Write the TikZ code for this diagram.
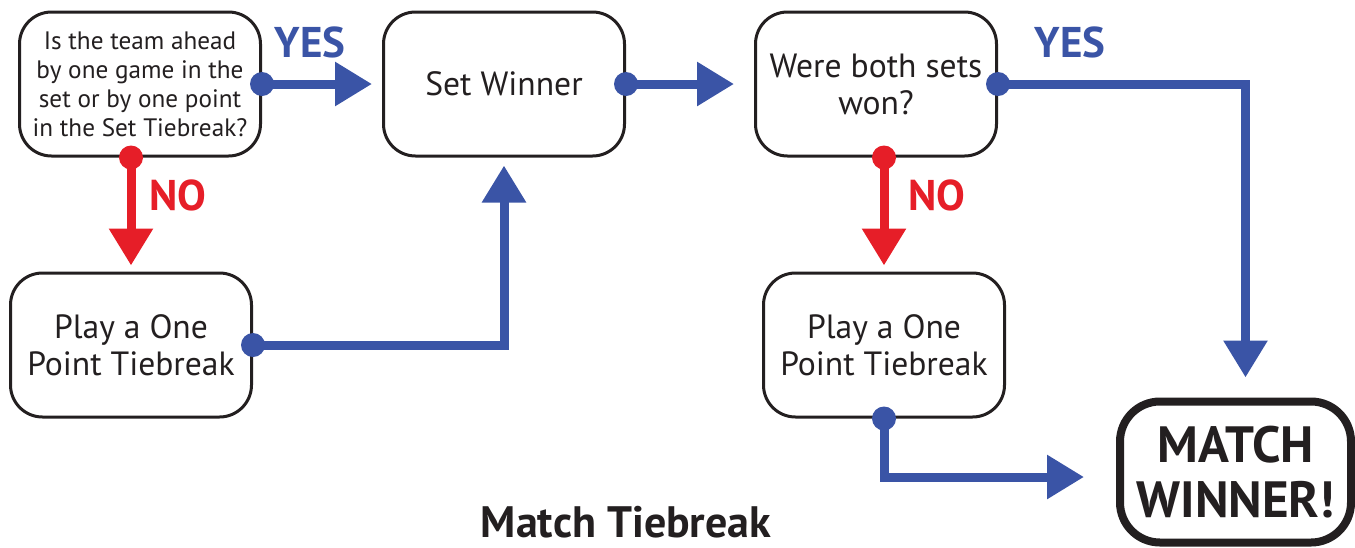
\documentclass[tikz,border=0pt]{standalone}
\usepackage{fontspec}
\setmainfont{PT Sans}
\usepackage{tikz}
\usetikzlibrary{arrows.meta}
\usepackage{xcolor}

\definecolor{yesblue}{HTML}{3A54A6}
\definecolor{nored}{HTML}{E61E28}
\definecolor{inkgray}{HTML}{231F20}

\begin{document}
\begin{tikzpicture}[x=0.5pt, y=-0.5pt, color=inkgray,
    box/.style={draw=inkgray, line width=1.5pt, rounded corners=16pt, fill=white,
        minimum width=120.5pt, minimum height=72pt, inner sep=0pt, align=center},
    finalbox/.style={draw=inkgray, line width=4pt, rounded corners=20pt, fill=white,
        minimum width=115.5pt, minimum height=70.5pt, inner sep=0pt, align=center,
        font=\fontsize{25.5}{27.5}\selectfont\bfseries},
    yesline/.style={draw=yesblue, line width=4.5pt, -{Triangle[length=18.5pt,width=21pt]}},
    noline/.style={draw=nored, line width=4.5pt, -{Triangle[length=18.5pt,width=21pt]}},
    yeslabel/.style={text=yesblue, font=\fontsize{21.5}{24}\selectfont\bfseries},
    nolabel/.style={text=nored, font=\fontsize{21.5}{24}\selectfont\bfseries},
    bigtext/.style={font=\fontsize{16.8}{18.5}\selectfont},
    smalltext/.style={font=\fontsize{12.6}{14.5}\selectfont}
]
    \useasboundingbox (0,0) rectangle (1355,547);

    % Kaesten
    \node[box, smalltext] (ahead) at (140,84) {Is the team ahead\\by one game in the\\set or by one point\\in the Set Tiebreak?};
    \node[box, bigtext] (setwin) at (504,84) {Set Winner};
    \node[box, bigtext] (bothsets) at (876,84) {Were both sets\\won?};
    \node[box, bigtext] (tiebreakA) at (131,345) {Play a One\\Point Tiebreak};
    \node[box, bigtext] (tiebreakB) at (884,345) {Play a One\\Point Tiebreak};
    \node[finalbox] (matchwin) at (1235.5,472) {MATCH\\WINNER!};

    % Titel
    \node[inner sep=0pt, font=\fontsize{22}{24}\selectfont\bfseries] (title) at (626,522) {Match Tiebreak};

    % Pfeile
    \draw[yesline, shorten >=5pt] (ahead.east) -- (setwin.west);
    \draw[noline, shorten >=3pt] (ahead.south -| tiebreakA) -- (tiebreakA.north);
    \draw[yesline, shorten >=4pt] (tiebreakA.east) -| (setwin.south);
    \draw[yesline, shorten >=10pt] (setwin.east) -- (bothsets.west);
    \draw[yesline, shorten >=10pt] (bothsets.east) -| ([xshift=5pt]matchwin.north);
    \draw[noline, shorten >=3pt] (bothsets.south -| tiebreakB) -- (tiebreakB.north);
    \draw[yesline, shorten >=16pt] (tiebreakB.south) |- ([yshift=-2.5pt]matchwin.west);

    % Punkte
    \fill[yesblue] (ahead.east) circle (6pt);
    \fill[nored] (ahead.south -| tiebreakA) circle (6pt);
    \fill[yesblue] (tiebreakA.east) circle (6pt);
    \fill[yesblue] (setwin.east) circle (6pt);
    \fill[yesblue] (bothsets.east) circle (6pt);
    \fill[nored] (bothsets.south -| tiebreakB) circle (6pt);
    \fill[yesblue] (tiebreakB.south) circle (6pt);

    % Beschriftungen
    \node[yeslabel] (yesA) at (310,42) {YES};
    \node[nolabel] (noA) at (178,195) {NO};
    \node[yeslabel] (yesB) at (1070,42) {YES};
    \node[nolabel] (noB) at (937,195) {NO};
\end{tikzpicture}
\end{document}
